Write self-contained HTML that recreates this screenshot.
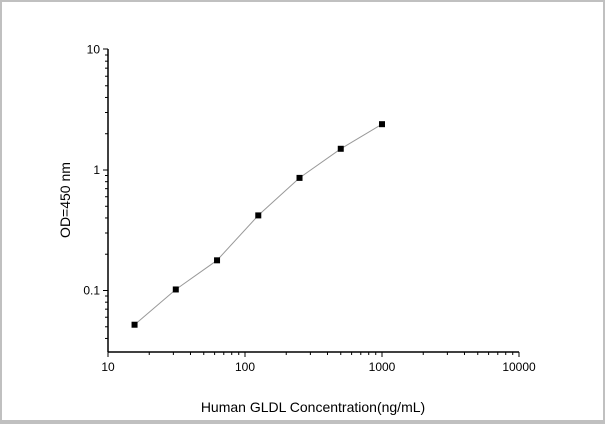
<!DOCTYPE html>
<html><head><style>
body{margin:0;background:#fff}
svg{display:block;font-family:"Liberation Sans",Arial,sans-serif}
</style></head><body>
<svg id="c" width="605" height="424">
<rect x="0" y="0" width="605" height="424" fill="#c0c0c0"/>
<rect x="2" y="2" width="601" height="418" fill="#fff"/>
<g id="g"></g>
</svg>
<script>
const concentrations=[15.625,31.25,62.5,125,250,500,1000];
const odValues=[0.052,0.102,0.178,0.42,0.86,1.5,2.4];
const xTicks=[10,100,1000,10000];
const yTicks=[0.1,1,10];
const X0=108,X1=519,Y0=352,Y1=49;
const xs=v=>X0+(Math.log10(v)-1)*(X1-X0)/3;
const ys=v=>170-Math.log10(v)*120.5;
const NS="http://www.w3.org/2000/svg",g=document.getElementById('g');
function el(t,a){const e=document.createElementNS(NS,t);for(const k in a)e.setAttribute(k,a[k]);g.appendChild(e);return e;}
let e=el('line',{x1:X0,y1:Y1,x2:X0,y2:Y0,stroke:'#000','stroke-width':1.5});


e=el('line',{x1:X0,y1:Y0,x2:X1,y2:Y0,stroke:'#000','stroke-width':1.5});


for(let d=1;d<4;d++)for(let m=1;m<10;m++){const v=Math.pow(10,d)*m;if(v>10000)break;const x=xs(v);
 e=el('line',{x1:x,y1:Y0,x2:x,y2:Y0+(m==1?5:3),stroke:'#000','stroke-width':1});
 
 }
e=el('line',{x1:X1,y1:Y0,x2:X1,y2:Y0+5,stroke:'#000'});


for(let d=-2;d<1;d++)for(let m=1;m<10;m++){const v=Math.pow(10,d)*m;const y=ys(v);if(y>Y0||y<Y1)continue;
 e=el('line',{x1:X0-(m==1?5:3),y1:y,x2:X0,y2:y,stroke:'#000','stroke-width':1});
 
 }
e=el('line',{x1:X0-5,y1:Y1,x2:X0,y2:Y1,stroke:'#000'});


xTicks.forEach(v=>{e=el('text',{x:xs(v),y:371,'text-anchor':'middle','font-size':12,fill:'#000'});e.textContent=v;
 
 });
yTicks.forEach(v=>{e=el('text',{x:X0-8,y:ys(v)+4,'text-anchor':'end','font-size':12,fill:'#000'});e.textContent=v;
 
 });
e=el('polyline',{points:concentrations.map((c,i)=>xs(c)+','+ys(odValues[i])).join(' '),fill:'none',stroke:'#999','stroke-width':1});


concentrations.forEach((c,i)=>{e=el('rect',{x:xs(c)-3,y:ys(odValues[i])-3,width:6,height:6,fill:'#000'});
 
 });
e=el('text',{x:313,y:412,'text-anchor':'middle','font-size':14,fill:'#000'});e.textContent='Human GLDL Concentration(ng/mL)';


e=el('text',{x:0,y:0,'text-anchor':'middle','font-size':14,fill:'#000',transform:'translate(70,200) rotate(-90)'});e.textContent='OD=450 nm';


</script>
</body></html>
